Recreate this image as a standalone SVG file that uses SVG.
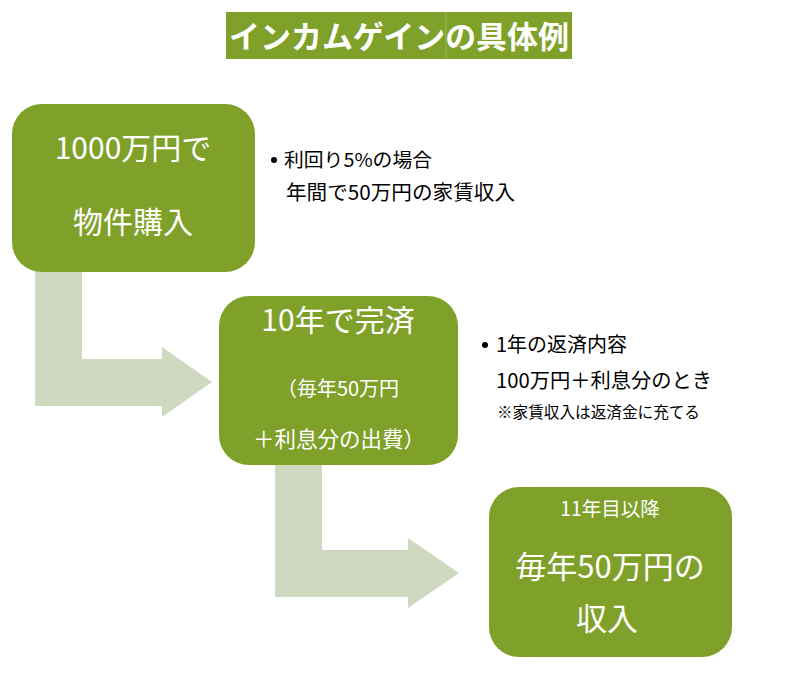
<svg xmlns="http://www.w3.org/2000/svg" width="785" height="681" viewBox="0 0 785 681">
<style>
.box{fill:#7fa12a}
.arrow{fill:#cfd9c0}
.t{font-family:"Noto Sans CJK JP","Noto Sans",sans-serif;fill:#fff;text-anchor:middle}
.n{font-family:"Noto Sans CJK JP","Noto Sans",sans-serif;fill:#000}
</style>
<rect width="785" height="681" fill="#fff"/>
<g id="title">
<rect x="226" y="12" width="346" height="47" class="box"/>
<line x1="446" y1="12" x2="446" y2="59" stroke="#9ab85a" stroke-width="1"/>
<text x="399" y="48" class="t" font-size="31" font-weight="bold" textLength="340" lengthAdjust="spacingAndGlyphs">インカムゲインの具体例</text>
</g>
<g id="connectors">
<path class="arrow" d="M35 270 H82 V359 H162 V347 L212 382 L162 417 V406 H35 Z"/>
<path class="arrow" d="M275 465 H322 V550 H408 V538 L459 573 L408 608 V597 H275 Z"/>
</g>
<g id="box1">
<rect x="12" y="104" width="243" height="168" rx="30" class="box"/>
<text x="133" y="159" class="t" font-size="30">1000万円で</text>
<text x="133" y="233" class="t" font-size="30">物件購入</text>
</g>
<g id="box2">
<rect x="219" y="296" width="239" height="169" rx="30" class="box"/>
<text x="338" y="331" class="t" font-size="30">10年で完済</text>
<text x="338" y="396" class="t" font-size="20">（毎年50万円</text>
<text x="339" y="447" class="t" font-size="21.5">＋利息分の出費）</text>
</g>
<g id="box3">
<rect x="489" y="487" width="243" height="170" rx="30" class="box"/>
<text x="610" y="516" class="t" font-size="19.5">11年目以降</text>
<text x="610" y="578" class="t" font-size="31">毎年50万円の</text>
<text x="607" y="630" class="t" font-size="31">収入</text>
</g>
<g id="note1">
<circle cx="274" cy="160" r="3" fill="#000"/>
<text x="284" y="167" class="n" font-size="19" textLength="148" lengthAdjust="spacingAndGlyphs">利回り5%の場合</text>
<text x="286" y="200" class="n" font-size="20" textLength="229" lengthAdjust="spacingAndGlyphs">年間で50万円の家賃収入</text>
</g>
<g id="note2">
<circle cx="485" cy="345" r="3" fill="#000"/>
<text x="496" y="352" class="n" font-size="20" textLength="131" lengthAdjust="spacingAndGlyphs">1年の返済内容</text>
<text x="496" y="388" class="n" font-size="20.5" textLength="216" lengthAdjust="spacingAndGlyphs">100万円＋利息分のとき</text>
<text x="497" y="418" class="n" font-size="15.5" textLength="203" lengthAdjust="spacingAndGlyphs">※家賃収入は返済金に充てる</text>
</g>
</svg>
